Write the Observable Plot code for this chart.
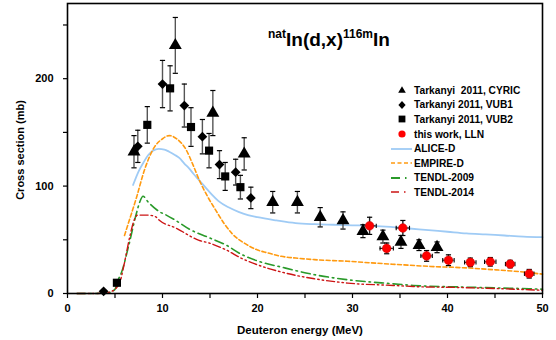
<!DOCTYPE html>
<html><head><meta charset="utf-8">
<script src="https://cdn.jsdelivr.net/npm/d3@7"></script>
<script src="https://cdn.jsdelivr.net/npm/@observablehq/plot@0.6"></script>
<style>
body{margin:0;background:#fff;font-family:"Liberation Sans",Arial,sans-serif;}
#wrap{position:relative;width:556px;height:340px;overflow:hidden;}
.abs{position:absolute;font-weight:bold;color:#000;white-space:nowrap;}
#title{left:268px;top:29px;font-size:19px;}
#title sup{font-size:12px;vertical-align:0;position:relative;top:-8px;}
#ylab{left:20px;top:150px;font-size:11px;transform:translate(-50%,-50%) rotate(-90deg);}
#xlab{left:300px;top:324px;font-size:11.5px;transform:translateX(-50%);}
#legend{left:390px;top:83px;font-size:10.2px;}
.row{height:14.6px;display:flex;align-items:center;}
.row svg{width:24px;height:14px;flex:none;}
</style></head><body><div id="wrap"></div>
<script>
// ---- experimental data ----
const cyricE = [7.0, 11.35, 15.3, 18.6, 21.6, 24.2, 26.6, 29.0, 31.1, 33.2, 35.1, 37.0, 38.9];
const cyricS = [132, 231, 168, 130, 85, 85, 71, 68, 58, 53, 48, 45, 43];
const cyricErr = [15, 26, 21, 15, 10, 10, 9, 8, 6, 6, 6, 5, 5];

const vub1E = [3.8, 7.4, 10.0, 12.3, 14.2, 16.0, 17.7, 19.3];
const vub1S = [2, 137, 195, 175, 146, 120, 113, 89];
const vub1Err = [0, 15, 22, 20, 16, 13, 12, 10];

const vub2E = [5.2, 8.4, 10.8, 13.0, 14.9, 16.6, 18.2];
const vub2S = [10, 157, 191, 155, 133, 109, 99];
const vub2Err = [1, 17, 21, 18, 16, 13, 11];

const llnE = [31.8, 33.6, 35.3, 37.8, 40.1, 42.4, 44.5, 46.6, 48.6];
const llnS = [63, 42, 61, 35, 31, 29, 29.5, 27.4, 18.4];
const llnErr = [8, 5, 7, 5, 5, 4, 4, 3.5, 4];
const llnEErr = [0.7, 0.7, 0.7, 0.6, 0.6, 0.6, 0.6, 0.5, 0.5];

// ---- model curves ----
const aliceE = [6.9, 7.5, 8, 8.5, 9, 9.6, 10.2, 10.7, 11.3, 11.8, 12.3, 12.8, 13.3, 13.85, 14.5, 15.2, 15.9, 17, 18, 19, 20, 22, 24, 26, 28, 30, 32, 34, 36, 38, 40, 42, 44, 46, 48, 50];
const aliceS = [101, 114, 122, 129, 133, 134.6, 134, 132, 129, 126, 121, 116.5, 111, 105.6, 99, 92, 86, 80, 76, 73, 71, 68, 65.5, 64.5, 64, 63.5, 63, 62, 60.5, 59, 57.5, 56, 55, 54, 53, 52.5];

const empireE = [6.0, 6.5, 7.25, 8.1, 9.2, 10, 10.7, 11.5, 12.5, 13.2, 13.85, 14.7, 15.6, 16.5, 17.3, 18.7, 20, 21, 22.5, 24, 26, 29.5, 32, 34.7, 38.2, 41.6, 45.1, 48, 50];
const empireS = [54, 68, 89, 115, 137, 144, 147, 144, 133.6, 120, 106, 91, 77.6, 65, 56, 46.4, 40.5, 38, 34.6, 33, 31.5, 30, 28.5, 27, 25.2, 24, 22, 20, 18];

const t09E = [1, 3, 4, 4.5, 5, 5.3, 5.7, 6.4, 7.25, 7.6, 7.95, 8.5, 9.7, 10.4, 11.4, 12.8, 14.9, 16.6, 18.4, 20.1, 22.5, 26, 29.5, 34.3, 36.4, 41.6, 48.6, 50];
const t09S = [0, 0, 0.5, 1.2, 4, 12, 20, 43, 74.5, 85, 90.5, 85, 76, 73, 68, 60, 52, 45.5, 36, 30, 24.6, 17.5, 12.8, 9, 7.5, 6, 4.4, 4];

const t14E = [1, 3, 4, 4.5, 5, 5.5, 5.9, 6.55, 7.0, 7.4, 8.5, 9.3, 9.7, 11.4, 13.85, 14.9, 16.6, 18.4, 19.9, 22.5, 26, 29.5, 34.3, 36.4, 41.6, 48.6, 50];
const t14S = [0, 0, 0.5, 1.5, 4, 10, 24.6, 52.6, 68, 73, 73, 71.3, 68, 61, 49.5, 47, 41, 32.4, 27, 20, 13.7, 9.7, 7.5, 6.5, 5.5, 3.5, 3];

// ---- axis ticks ----
const xTicks = [0, 10, 20, 30, 40, 50];
const xMinor = [5, 15, 25, 35, 45];
const yTicks = [0, 100, 200];
const yMinor = [50, 150, 250];

const zip = (E, S, err, xerr) => E.map((e, i) => ({E: e, S: S[i], err: err ? err[i] : 0, xerr: xerr ? xerr[i] : 0}));
const cyric = zip(cyricE, cyricS, cyricErr);
const vub1 = zip(vub1E, vub1S, vub1Err);
const vub2 = zip(vub2E, vub2S, vub2Err);
const lln = zip(llnE, llnS, llnErr, llnEErr);
const curve = (E, S) => E.map((e, i) => ({E: e, S: S[i]}));

const hcap = {draw(ctx, size) { const r = Math.sqrt(size / Math.PI); ctx.moveTo(-r, 0); ctx.lineTo(r, 0); }};
const vcap = {draw(ctx, size) { const r = Math.sqrt(size / Math.PI); ctx.moveTo(0, -r); ctx.lineTo(0, r); }};

const allPts = [...cyric, ...vub1, ...vub2].filter(d => d.err > 1);

function errBars(data, color) {
  return [
    Plot.ruleX(data, {x: "E", y1: d => d.S - d.err, y2: d => d.S + d.err, stroke: color, strokeWidth: 1.4}),
    Plot.dot(data, {x: "E", y: d => d.S - d.err, symbol: hcap, r: 2.6, stroke: "#000", strokeWidth: 1.2}),
    Plot.dot(data, {x: "E", y: d => d.S + d.err, symbol: hcap, r: 2.6, stroke: "#000", strokeWidth: 1.2})
  ];
}

const chart = Plot.plot({
  width: 556, height: 340,
  marginLeft: 67, marginRight: 14, marginTop: 3, marginBottom: 47,
  style: {fontFamily: "Liberation Sans, Arial, sans-serif", fontWeight: "bold", fontSize: "11px", background: "#fff"},
  x: {domain: [0, 50]},
  y: {domain: [0, 270]},
  marks: [
    Plot.line(curve(aliceE, aliceS), {x: "E", y: "S", stroke: "#9fcbf5", strokeWidth: 1.8, curve: "monotone-x"}),
    Plot.line(curve(empireE, empireS), {x: "E", y: "S", stroke: "#ff9a10", strokeWidth: 1.6, strokeDasharray: "4,2.5", curve: "monotone-x"}),
    Plot.line(curve(t09E, t09S), {x: "E", y: "S", stroke: "#2a9a2a", strokeWidth: 1.6, strokeDasharray: "9,4,1.5,4", curve: "monotone-x"}),
    Plot.line(curve(t14E, t14S), {x: "E", y: "S", stroke: "#cc1414", strokeWidth: 1.4, strokeDasharray: "8,3,1.5,3,1.5,3", curve: "monotone-x"}),
    ...errBars(allPts, "#555"),
    ...errBars(lln, "#222"),
    Plot.ruleY(lln, {y: "S", x1: d => d.E - d.xerr, x2: d => d.E + d.xerr, stroke: "#222", strokeWidth: 1.2}),
    Plot.dot(lln, {x: d => d.E - d.xerr, y: "S", symbol: vcap, r: 2.2, stroke: "#000", strokeWidth: 1.1}),
    Plot.dot(lln, {x: d => d.E + d.xerr, y: "S", symbol: vcap, r: 2.2, stroke: "#000", strokeWidth: 1.1}),
    Plot.dot(cyric, {x: "E", y: "S", symbol: "triangle", r: 4.8, fill: "#000"}),
    Plot.dot(vub1, {x: "E", y: "S", symbol: "diamond2", r: 4.4, fill: "#000"}),
    Plot.dot(vub2, {x: "E", y: "S", symbol: "square", r: 4.6, fill: "#000"}),
    Plot.dot(lln, {x: "E", y: "S", r: 4.3, fill: "#ff0000", stroke: "#d00000", strokeWidth: 0.6}),
    Plot.axisX({ticks: xTicks, tickSize: 5, tickPadding: 6, label: null, strokeWidth: 1.2}),
    Plot.axisX({ticks: xMinor, tickSize: 5, tickFormat: () => "", label: null, strokeWidth: 1.2}),
    Plot.axisY({ticks: yTicks, tickSize: 4, tickPadding: 10, label: null, strokeWidth: 1.2}),
    Plot.axisY({ticks: yMinor, tickSize: 4, tickFormat: () => "", label: null, strokeWidth: 1.2}),
    Plot.frame({stroke: "#000", strokeWidth: 1.6})
  ]
});

const wrap = document.getElementById("wrap");
wrap.appendChild(chart);

function addDiv(id, html) {
  const d = document.createElement("div");
  d.id = id; d.className = "abs"; d.innerHTML = html; wrap.appendChild(d); return d;
}
addDiv("title", "<sup>nat</sup>In(d,x)<sup>116m</sup>In");
addDiv("ylab", "Cross section (mb)");
addDiv("xlab", "Deuteron energy (MeV)");

const legendItems = [
  {label: "Tarkanyi&nbsp; 2011, CYRIC", sym: '<path d="M12,3.2 L15.8,9.8 L8.2,9.8 Z" fill="#000"/>'},
  {label: "Tarkanyi 2011, VUB1", sym: '<path d="M12,3 L15.6,7 L12,11 L8.4,7 Z" fill="#000"/>'},
  {label: "Tarkanyi 2011, VUB2", sym: '<rect x="8.6" y="3.6" width="6.8" height="6.8" fill="#000"/>'},
  {label: "this work, LLN", sym: '<circle cx="12" cy="7" r="3.6" fill="#ff0000"/>'},
  {label: "ALICE-D", sym: '<line x1="1" y1="7" x2="22" y2="7" stroke="#9fcbf5" stroke-width="1.8"/>'},
  {label: "EMPIRE-D", sym: '<line x1="1" y1="7" x2="22" y2="7" stroke="#ff9a10" stroke-width="1.6" stroke-dasharray="4,2.5"/>'},
  {label: "TENDL-2009", sym: '<line x1="1" y1="7" x2="22" y2="7" stroke="#2a9a2a" stroke-width="1.8" stroke-dasharray="9,5,1.5,10"/>'},
  {label: "TENDL-2014", sym: '<line x1="1" y1="7" x2="22" y2="7" stroke="#cc1414" stroke-width="1.4" stroke-dasharray="8,5,1.5,10"/>'}
];
addDiv("legend", legendItems.map(it =>
  `<div class="row"><svg viewBox="0 0 24 14">${it.sym}</svg><span>${it.label}</span></div>`).join(""));
</script>
</body></html>
